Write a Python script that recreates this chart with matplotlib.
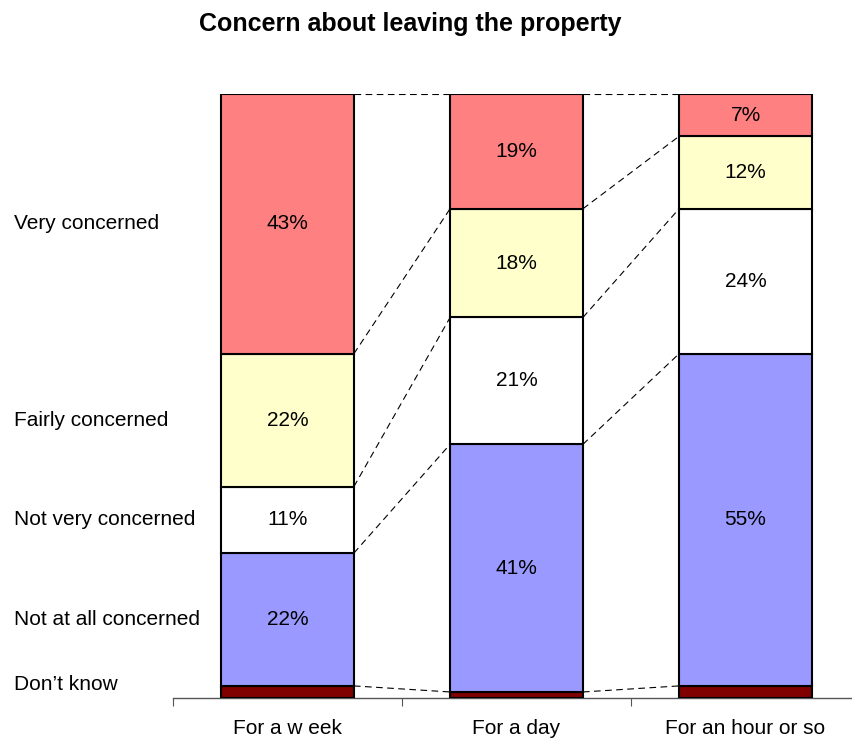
import numpy as np
import matplotlib.pyplot as plt
from matplotlib.transforms import blended_transform_factory

plt.rcParams['font.family'] = ['Liberation Sans', 'DejaVu Sans']

periods = ['For a w eek', 'For a day', 'For an hour or so']
responses = ["Don\u2019t know", 'Not at all concerned', 'Not very concerned',
             'Fairly concerned', 'Very concerned']
colours = ['#800000', '#9999FF', '#FFFFFF', '#FFFFCC', '#FF8080']

# percentages, bottom of the stack first
dont_know = [2, 1, 2]
not_at_all = [22, 41, 55]
not_very = [11, 21, 24]
fairly = [22, 18, 12]
very = [43, 19, 7]

series = np.array([dont_know, not_at_all, not_very, fairly, very], dtype=float)
bar_w = 0.58
fs = 15

fig = plt.figure(figsize=(8.53, 7.39), dpi=100)
ax = fig.add_axes([173 / 853, 41 / 739, 687 / 853, 604 / 739])

x = np.arange(len(periods))
bottoms = np.zeros(len(periods))
for vals, col in zip(series, colours):
    ax.bar(x, vals, bar_w, bottom=bottoms, color=col, edgecolor='black',
           linewidth=1.5, zorder=3)
    bottoms = bottoms + vals

# dashed series lines joining the segment boundaries of neighbouring bars
tops = np.cumsum(series, axis=0)
for lvl in tops:
    for i in range(len(periods) - 1):
        ax.plot([x[i] + bar_w / 2, x[i + 1] - bar_w / 2], [lvl[i], lvl[i + 1]],
                color='black', linestyle=(0, (6, 4)), linewidth=0.8, zorder=2)

# percentage labels in the middle of each segment
mids = tops - series / 2
for k in range(1, len(responses)):
    for i in range(len(periods)):
        ax.text(x[i], mids[k, i], f'{series[k, i]:.0f}%', ha='center',
                va='center', fontsize=fs, zorder=4)

# response names down the left, level with the first bar
trans = blended_transform_factory(fig.transFigure, ax.transData)
for k, name in enumerate(responses):
    y = max(mids[k, 0], 2.2)
    ax.text(14 / 853, y, name, transform=trans, ha='left', va='center',
            fontsize=fs, clip_on=False)

ax.set_xlim(-0.5, 2.5)
ax.set_ylim(0, 100)
ax.set_xticks([-0.5, 0.5, 1.5, 2.5])
ax.set_xticklabels([])
ax.set_xticks(x, minor=True)
ax.set_xticklabels(periods, minor=True, fontsize=fs)
ax.tick_params(axis='x', which='major', length=6, direction='out', color='#555555')
ax.tick_params(axis='x', which='minor', length=0, pad=15)
ax.set_yticks([])
for side in ['left', 'right', 'top']:
    ax.spines[side].set_visible(False)
ax.spines['bottom'].set_color('#555555')
ax.spines['bottom'].set_linewidth(1)

fig.text(410 / 853, 1 - 24 / 739, 'Concern about leaving the property',
         ha='center', va='center', fontsize=18, fontweight='bold')

fig.savefig('out.png', dpi=100)
